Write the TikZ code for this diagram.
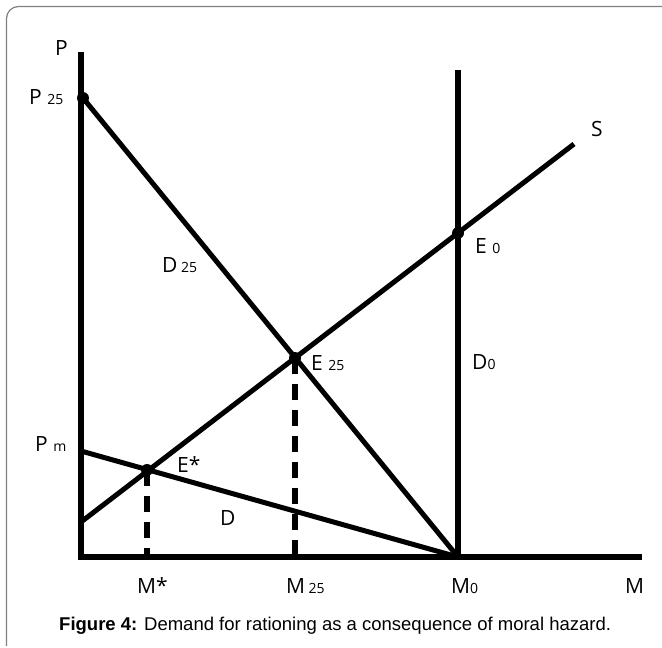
\documentclass[tikz,border=0pt]{standalone}
\usepackage{fontspec}
\setmainfont{Open Sans}
\newfontfamily\capfont{Liberation Sans}
\usetikzlibrary{positioning}

\newcommand{\sbs}[1]{{\fontsize{14}{14}\selectfont #1}}

\tikzset{
  curve/.style={line width=5pt},
  axisline/.style={line width=5.4pt},
  guide/.style={line width=5.4pt, dash pattern=on 16pt off 10pt},
  dot/.style={circle, fill, inner sep=0pt, minimum size=12pt},
  lbl/.style={font=\fontsize{21}{21}\selectfont, inner sep=0pt, anchor=base west},
}

\begin{document}
\begin{tikzpicture}[x=1pt,y=-1pt]
\useasboundingbox (0,0) rectangle (662,648);
% frame
\draw[gray, line width=1.2pt, rounded corners=12pt] (6.5,646) -- (6.5,6.5) -- (662,6.5);

% points
\coordinate (orig) at (81,557);
\coordinate (ytop) at (81,52);
\coordinate (xend) at (642,557);
\coordinate (mzero) at (458,557);
\coordinate (mzerotop) at (458,70);
\coordinate (sbot) at (81,522);
\coordinate (stop) at (574,144);
\coordinate (pm) at (81,451);
\coordinate (mstar) at (147,557);
\coordinate (mtf) at (295,557);

\node[dot] (ptf) at (83,98) {};
\node[dot] (ezero) at (458,233) {};
\node[dot] (etf) at (295,358) {};
\node[dot] (estar) at (147,470) {};

% axes
\draw[axisline] (ytop) -- (orig) -- (xend);
\draw[axisline] (mzerotop) -- (mzero);

% curves
\draw[curve] (ptf.center) -- (mzero);
\draw[curve] (sbot) -- (stop);
\draw[curve] (pm) -- (mzero);

% dashed guides
\draw[guide] (estar.center) -- (mstar);
\draw[guide] (etf.center) -- (mtf);

% labels
\node[lbl] (lp) at (55,55) {P};
\node[lbl] (lptf) at (29,104) {P \sbs{25}};
\node[lbl] (ldtf) at (162,272) {D\,\sbs{25}};
\node[lbl] (ls) at (591,136) {S};
\node[lbl] (lezero) at (475,253) {E \sbs{0}};
\node[lbl] (letf) at (311,370) {E \sbs{25}};
\node[lbl] (ldzero) at (472,369) {D\sbs{0}};
\node[lbl] (lpm) at (35,451) {P \sbs{m}};
\node[lbl] (lestar) at (177,472) {E*};
\node[lbl] (ld) at (220,525) {D};
\node[lbl] (lmstar) at (137,593) {M*};
\node[lbl] (lmtf) at (286,593) {M\,\sbs{25}};
\node[lbl] (lmzero) at (451,593) {M\sbs{0}};
\node[lbl] (lm) at (625,593) {M};

\node[anchor=base west, inner sep=0pt, font=\capfont\fontsize{18.5}{18.5}\selectfont] (caption) at (59,630)
  {\textbf{Figure 4:} Demand for rationing as a consequence of moral hazard.};
\end{tikzpicture}
\end{document}
